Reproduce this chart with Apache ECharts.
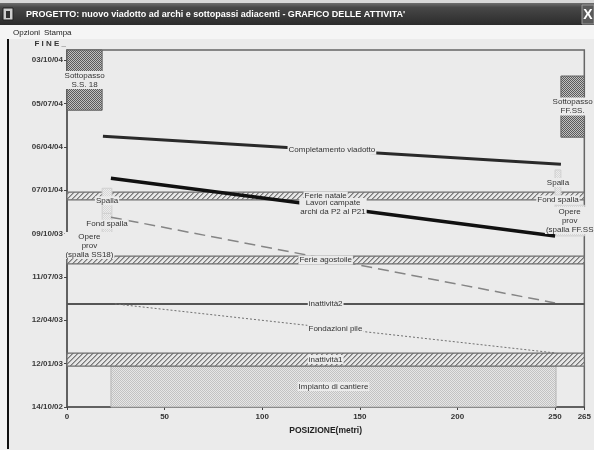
<!DOCTYPE html>
<html><head><meta charset="utf-8">
<script src="https://cdn.jsdelivr.net/npm/echarts@6/dist/echarts.min.js"></script>
<style>html,body{margin:0;padding:0;background:#ebebeb}#c{width:594px;height:450px}</style>
</head><body><div id="c"></div>
<script>
// ---------- DATA ----------
// Y axis: days elapsed since 14/10/02 (ticks every 90 days)
const yTickDays = [0, 90, 180, 270, 360, 450, 540, 630, 720];
const yTickLabels = ['14/10/02','12/01/03','12/04/03','11/07/03','09/10/03','07/01/04','06/04/04','05/07/04','03/10/04'];
const yEndDay = 741;            // "FINE"
const xTicks = [0, 50, 100, 150, 200, 250, 265];
const xMax = 265;

// Linear activities (position in metres, time in days)
const lineNames    = ['Completamento viadotto', 'Lavori campate\narchi da P2 al P21', '', 'inattività2', 'Fondazioni pile'];
const lineFromPos  = [18.4, 22.5, 22.5, 0, 24.5];
const lineToPos    = [253, 250, 250, 265, 250.5];
const lineFromDay  = [562, 475, 394, 214, 214];
const lineToDay    = [504, 355, 216, 214, 112];

// Block activities (rectangles)
const boxNames   = ['Impianto di cantiere', 'inattività1', 'Ferie agostoile', 'Ferie natale',
                    'Sottopasso\nS.S. 18', 'Sottopasso\nFF.SS.',
                    'Opere\nprov\n(spalla SS18)', 'Fond spalla', 'Spalla',
                    'Opere\nprov\n(spalla FF.SS', 'Fond spalla', 'Spalla'];
const boxFromPos = [22.5, 0, 0, 0, 0, 253, 0, 18, 18, 250, 250, 250];
const boxToPos   = [250.5, 265, 265, 265, 18, 265, 23, 23, 23, 265, 253, 253];
const boxFromDay = [0, 85, 297, 430, 616, 560, 311, 357, 402, 355, 419, 440];
const boxToDay   = [85, 112, 313, 446, 741, 687, 359, 402, 454, 419, 440, 492];
const boxKind    = ['light', 'hatch', 'hatch', 'hatch', 'dark', 'dark', 'faint', 'faint', 'faint', 'faint', 'faint', 'faint'];

// ---------- STYLES ----------
const FONT = "'Liberation Sans', Arial, sans-serif";
const lineStyles = [
  {color:'#2a2a2a', width:3, type:'solid'},
  {color:'#111', width:3.5, type:'solid'},
  {color:'#858585', width:1.5, type:[11,6]},
  {color:'#555', width:2, type:'solid'},
  {color:'#707070', width:1, type:[2,2]}
];
function pat(w, h, fn) {
  const c = document.createElement('canvas'); c.width = w; c.height = h;
  const ctx = c.getContext('2d');
  for (let y = 0; y < h; y++) for (let x = 0; x < w; x++) { ctx.fillStyle = fn(x, y); ctx.fillRect(x, y, 1, 1); }
  return {image: c, repeat: 'repeat'};
}
const patterns = {
  light: pat(2, 2, (x, y) => ((x + y) % 2 ? '#e6e6e6' : '#c2c2c2')),
  dark:  pat(2, 2, (x, y) => ((x + y) % 2 ? '#c0c0c0' : '#5a5a5a')),
  faint: pat(2, 2, (x, y) => ((x + y) % 2 ? '#ececec' : '#d6d6d6')),
  hatch: pat(5, 5, (x, y) => { const k = (x + y) % 5; return k === 0 ? '#7a7a7a' : (k === 1 ? '#a8a8a8' : '#e6e6e6'); })
};
const boxStroke = {light:'#b4b4b4', hatch:'#6e6e6e', dark:'#606060', faint:'#d0d0d0'};

// ---------- SERIES ----------
const boxData = boxNames.map((n, i) => [boxFromPos[i], boxToPos[i], boxFromDay[i], boxToDay[i]]);
const series = [];
series.push({
  type:'custom', z:1, clip:false, silent:true, data: boxData,
  renderItem(params, api) {
    const i = params.dataIndex;
    const a = api.coord([api.value(0), api.value(3)]);
    const b = api.coord([api.value(1), api.value(2)]);
    return {type:'rect', shape:{x:a[0], y:a[1], width:b[0]-a[0], height:b[1]-a[1]},
      style:{fill: patterns[boxKind[i]], stroke: boxStroke[boxKind[i]], lineWidth: boxKind[i]==='hatch' ? 1.2 : 1}};
  }
});
lineNames.forEach((n, i) => {
  series.push({type:'line', z:2, symbol:'none', silent:true, animation:false,
    data:[[lineFromPos[i], lineFromDay[i]], [lineToPos[i], lineToDay[i]]],
    lineStyle: lineStyles[i]});
});
// labels: at midpoints of activities
const labelItems = [];
lineNames.forEach((n, i) => { if (n) labelItems.push([(lineFromPos[i]+lineToPos[i])/2, (lineFromDay[i]+lineToDay[i])/2, n]); });
boxNames.forEach((n, i) => labelItems.push([(boxFromPos[i]+boxToPos[i])/2, (boxFromDay[i]+boxToDay[i])/2, n]));
series.push({
  type:'custom', z:5, clip:false, silent:true, data: labelItems,
  renderItem(params, api) {
    const p = api.coord([api.value(0), api.value(1)]);
    return {type:'text', x:p[0], y:p[1], z2:10,
      style:{text: labelItems[params.dataIndex][2], fill:'#333', font:'8px ' + FONT,
        align:'center', verticalAlign:'middle', lineHeight:9, backgroundColor:'#ebebeb', padding:[0,1]}};
  }
});

// ---------- CHART ----------
const chart = echarts.init(document.getElementById('c'), null, {renderer:'canvas'});
chart.setOption({
  animation:false,
  backgroundColor:'#ebebeb',
  grid:{left:67, right:8, top:50, bottom:43, show:true, borderColor:'#666', borderWidth:1.5, backgroundColor:'transparent'},
  xAxis:{type:'value', min:0, max:xMax,
    axisLine:{show:true, lineStyle:{color:'#555', width:1.5}},
    axisTick:{show:true, customValues:xTicks, length:3, lineStyle:{color:'#444'}},
    axisLabel:{customValues:xTicks, fontSize:8, fontWeight:'bold', fontFamily:FONT, color:'#333', margin:6},
    splitLine:{show:false},
    name:'POSIZIONE(metri)', nameLocation:'middle', nameGap:17,
    nameTextStyle:{fontSize:8.5, fontWeight:'bold', fontFamily:FONT, color:'#222'}},
  yAxis:{type:'value', min:0, max:yEndDay,
    axisLine:{show:true, lineStyle:{color:'#555', width:1.5}},
    axisTick:{show:true, customValues:yTickDays, length:3, lineStyle:{color:'#444'}},
    axisLabel:{customValues:yTickDays, formatter:v => yTickLabels[yTickDays.indexOf(v)],
      fontSize:8, fontWeight:'bold', fontFamily:FONT, color:'#3a3a3a', margin:4},
    splitLine:{show:false}},
  graphic:[
    {type:'rect', shape:{x:0, y:0, width:594, height:3}, style:{fill:'#d8d8d8'}, z:-1},
    {type:'rect', shape:{x:0, y:3, width:594, height:22},
      style:{fill:{type:'linear', x:0, y:0, x2:0, y2:1, colorStops:[{offset:0, color:'#6e6e6e'}, {offset:0.2, color:'#474747'}, {offset:1, color:'#2c2c2c'}]}}, z:-1},
    {type:'rect', shape:{x:3, y:8, width:10, height:12}, style:{fill:'#cfcfcf', stroke:'#222', lineWidth:1}},
    {type:'rect', shape:{x:6, y:11, width:4, height:7}, style:{fill:'#333'}},
    {type:'text', x:26, y:15, style:{text:"PROGETTO: nuovo viadotto ad archi e sottopassi adiacenti - GRAFICO DELLE ATTIVITA'",
      fill:'#fff', font:'bold 9px ' + FONT, verticalAlign:'middle'}},
    {type:'rect', shape:{x:582, y:5, width:12, height:19}, style:{fill:'#5a5a5a', stroke:'#999'}},
    {type:'text', x:588, y:15, style:{text:'X', fill:'#fff', font:'bold 14px ' + FONT, align:'center', verticalAlign:'middle'}},
    {type:'rect', shape:{x:0, y:25, width:594, height:14}, style:{fill:'#f5f5f5'}, z:-1},
    {type:'text', x:13, y:33, style:{text:'Opzioni', fill:'#222', font:'8px ' + FONT, verticalAlign:'middle'}},
    {type:'text', x:44, y:33, style:{text:'Stampa', fill:'#222', font:'8px ' + FONT, verticalAlign:'middle'}},
    {type:'rect', shape:{x:0, y:39, width:7, height:411}, style:{fill:'#f3f3f3'}, z:-1},
    {type:'line', shape:{x1:8, y1:39, x2:8, y2:449}, style:{stroke:'#111', lineWidth:2}},
    {type:'text', x:66, y:44, style:{text:'F I N E _', fill:'#333', font:'bold 8px ' + FONT, align:'right', verticalAlign:'middle'}}
  ],
  series: series
});
</script></body></html>
